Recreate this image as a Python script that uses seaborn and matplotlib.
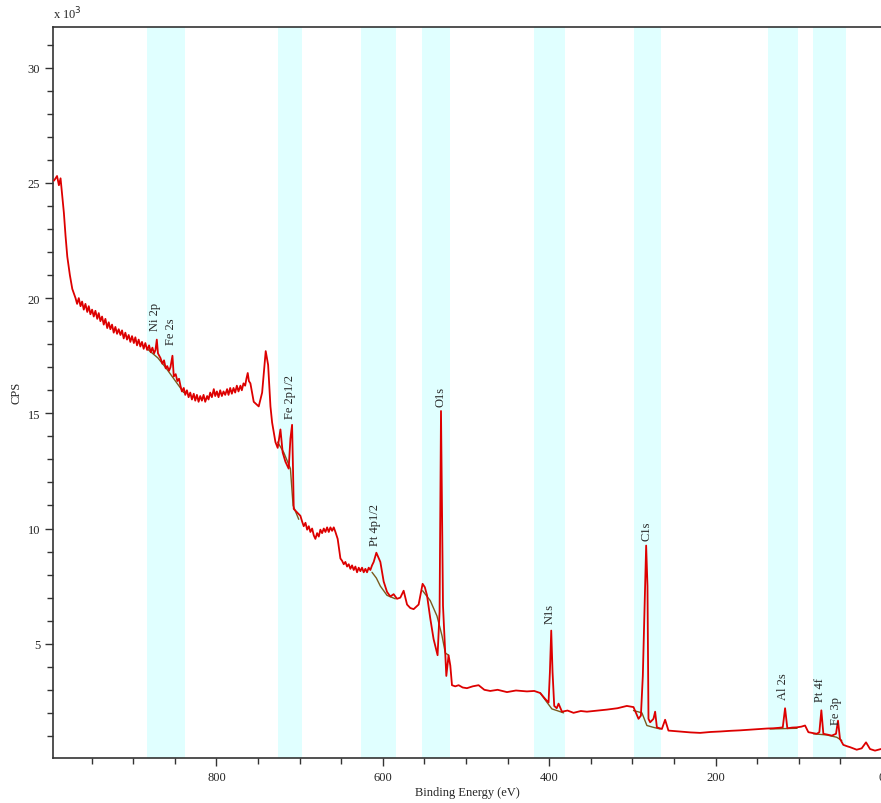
import numpy as np
import pandas as pd
import matplotlib
matplotlib.use("Agg")
import matplotlib.pyplot as plt
import seaborn as sns

# survey spectrum (binding energy in eV, counts in 10^3 CPS)
binding_energy = [
    995.2, 991.6, 989.4, 987.4, 985.3, 983.4, 981.4, 979.3, 976.2, 973.3,
    969.4, 967.5, 965.5, 963.4, 961.5, 959.5, 957.5, 955.3, 953.5, 951.5,
    949.5, 947.5, 945.5, 943.3, 941.5, 939.5, 937.5, 935.5, 933.5, 931.3,
    929.5, 927.5, 925.5, 923.5, 921.5, 919.5, 917.5, 915.4, 913.5, 911.5,
    909.5, 907.5, 905.5, 903.5, 901.5, 899.3, 897.5, 895.5, 893.5, 891.5,
    889.5, 887.5, 885.5, 883.3, 881.0, 879.0, 877.0, 875.0, 873.3, 871.7,
    870.3, 867.3, 865.0, 863.0, 861.0, 859.2, 857.0, 855.3, 852.9, 851.3,
    849.0, 847.0, 845.0, 843.3, 841.5, 839.3, 837.5, 835.5, 833.5, 831.5,
    829.5, 827.3, 825.5, 823.5, 821.5, 819.5, 817.5, 815.5, 813.5, 811.2,
    809.5, 807.5, 805.5, 803.2, 801.5, 799.5, 797.5, 795.5, 793.5, 791.5,
    789.5, 787.2, 785.5, 783.5, 781.5, 779.5, 777.5, 775.5, 773.5, 771.2,
    769.5, 767.5, 765.5, 764.0, 762.4, 761.0, 759.2, 755.2, 749.2, 745.1,
    740.8, 737.9, 735.1, 733.1, 729.1, 726.4, 723.1, 720.4, 717.1, 713.2,
    711.1, 709.1, 707.9, 707.1, 703.1, 699.1, 697.0, 695.1, 693.0, 691.0,
    689.0, 687.1, 685.0, 683.0, 681.1, 679.0, 677.0, 675.1, 673.0, 671.0,
    669.0, 667.0, 665.0, 663.0, 661.0, 659.0, 657.0, 654.3, 651.0, 649.0,
    647.0, 645.0, 643.0, 641.0, 639.0, 637.0, 635.0, 633.0, 631.0, 629.0,
    627.0, 625.0, 623.0, 621.0, 619.0, 617.0, 615.0, 613.0, 611.0, 607.8,
    603.0, 599.0, 595.0, 591.0, 587.0, 583.0, 579.0, 575.0, 570.9, 567.0,
    563.0, 560.0, 557.0, 552.2, 549.5, 546.9, 543.0, 539.0, 534.2, 531.8,
    530.1, 527.7, 524.9, 523.7, 521.0, 518.9, 516.9, 513.0, 508.9, 504.0,
    498.9, 492.0, 484.9, 478.0, 470.9, 462.0, 450.8, 440.0, 426.8, 418.0,
    410.8, 404.8, 400.8, 399.2, 397.6, 396.0, 394.0, 391.0, 388.8, 384.7,
    378.0, 370.8, 362.0, 354.7, 342.0, 330.7, 318.0, 306.7, 298.7, 292.7,
    289.8, 287.5, 285.9, 283.5, 281.9, 280.7, 278.7, 274.7, 272.7, 270.6,
    264.6, 260.7, 256.7, 242.6, 230.0, 218.6, 206.0, 194.6, 182.0, 170.6,
    158.0, 146.5, 138.0, 130.6, 124.0, 119.3, 116.5, 113.8, 108.0, 102.5,
    97.0, 92.5, 88.5, 83.0, 78.4, 75.3, 72.9, 70.5, 65.0, 60.4,
    55.3, 52.9, 50.5, 46.5, 42.0, 38.4, 34.0, 30.4, 24.4, 19.2,
    14.4, 8.4, 1.2,
]
cps_k = [
    25.1, 25.3, 24.9, 25.2, 24.4, 23.7, 22.7, 21.8, 21.0, 20.4,
    20.0, 19.75, 20.0, 19.65, 19.85, 19.5, 19.75, 19.4, 19.65, 19.3,
    19.5, 19.2, 19.45, 19.1, 19.35, 19.0, 19.2, 18.85, 19.1, 18.7,
    18.95, 18.65, 18.85, 18.5, 18.75, 18.45, 18.65, 18.4, 18.6, 18.25,
    18.5, 18.2, 18.4, 18.1, 18.35, 18.05, 18.3, 17.95, 18.2, 17.9,
    18.1, 17.8, 18.05, 17.75, 17.95, 17.65, 17.85, 17.6, 17.75, 18.2,
    17.6, 17.4, 17.15, 17.3, 16.95, 17.05, 16.85, 17.0, 17.5, 16.6,
    16.7, 16.4, 16.5, 16.2, 15.95, 16.1, 15.8, 16.0, 15.7, 15.9,
    15.6, 15.85, 15.55, 15.8, 15.5, 15.75, 15.55, 15.8, 15.5, 15.75,
    15.6, 15.9, 15.7, 16.05, 15.75, 15.95, 15.7, 16.0, 15.75, 15.95,
    15.8, 16.05, 15.8, 16.1, 15.85, 16.1, 15.9, 16.2, 15.95, 16.2,
    16.0, 16.3, 16.2, 16.5, 16.75, 16.4, 16.3, 15.5, 15.3, 15.9,
    17.7, 17.1, 15.3, 14.6, 13.75, 13.5, 14.3, 13.3, 12.9, 12.6,
    13.9, 14.5, 12.45, 10.85, 10.7, 10.55, 10.3, 10.1, 10.25, 9.95,
    10.1, 9.85, 10.0, 9.7, 9.55, 9.8, 9.65, 9.95, 9.8, 10.0,
    9.85, 10.05, 9.85, 10.05, 9.9, 10.05, 9.85, 9.55, 8.7, 8.6,
    8.45, 8.55, 8.35, 8.45, 8.25, 8.4, 8.2, 8.35, 8.1, 8.3,
    8.15, 8.3, 8.1, 8.25, 8.1, 8.3, 8.2, 8.4, 8.55, 8.95,
    8.55, 7.7, 7.25, 7.05, 7.15, 6.95, 7.0, 7.3, 6.7, 6.55,
    6.5, 6.6, 6.7, 7.6, 7.45, 7.1, 6.1, 5.2, 4.5, 6.4,
    15.1, 6.65, 4.5, 3.6, 4.5, 4.05, 3.2, 3.15, 3.2, 3.1,
    3.07, 3.15, 3.2, 3.0, 2.95, 3.0, 2.9, 2.97, 2.93, 2.95,
    2.86, 2.6, 2.45, 3.76, 5.57, 3.76, 2.3, 2.2, 2.4, 2.05,
    2.1, 2.0, 2.08, 2.05, 2.1, 2.14, 2.2, 2.3, 2.25, 1.74,
    1.88, 3.6, 5.8, 9.26, 7.5, 1.74, 1.59, 1.74, 2.05, 1.37,
    1.3, 1.7, 1.23, 1.19, 1.15, 1.13, 1.17, 1.19, 1.22, 1.24,
    1.27, 1.3, 1.32, 1.33, 1.35, 1.37, 2.2, 1.33, 1.36, 1.37,
    1.4, 1.45, 1.16, 1.12, 1.09, 1.16, 2.11, 1.09, 1.05, 1.01,
    1.09, 1.66, 0.87, 0.61, 0.55, 0.51, 0.45, 0.40, 0.46, 0.72,
    0.43, 0.36, 0.43,
]

# shaded peak regions (eV)
region_hi = [883.8, 725.9, 626.7, 553.3, 417.9, 298.7, 136.9, 83.5]
region_lo = [837.5, 696.9, 584.1, 519.8, 380.5, 265.8, 101.5, 42.9]

# background lines under each region
bg_energy = [
    [883.3, 870.3, 860.3, 851.3, 839.3],
    [726.4, 719.1, 711.1, 707.9, 701.1],
    [613.0, 607.8, 603.0, 595.0, 585.0],
    [552.2, 543.0, 534.9, 528.9, 524.9, 521.0],
    [410.8, 402.8, 396.8, 390.8, 382.8],
    [298.7, 288.6, 282.6, 274.7, 266.7],
    [134.5, 102.1],
    [82.5, 66.4, 54.4, 48.4],
]
bg_cps_k = [
    [17.8, 17.4, 16.95, 16.5, 15.9],
    [13.75, 13.3, 12.6, 11.0, 10.4],
    [8.1, 7.85, 7.5, 7.1, 6.95],
    [7.3, 6.87, 6.2, 5.35, 4.6, 4.5],
    [2.86, 2.46, 2.17, 2.1, 2.0],
    [2.1, 2.0, 1.45, 1.37, 1.3],
    [1.3, 1.33],
    [1.09, 1.04, 0.94, 0.8],
]

# peak labels
peak_names = ["Ni 2p", "Fe 2s", "Fe 2p1/2", "Pt 4p1/2", "O1s", "N1s", "C1s", "Al 2s", "Pt 4f", "Fe 3p"]
peak_energy = [874.0, 855.0, 711.0, 609.0, 531.0, 400.0, 283.5, 119.0, 74.5, 55.0]
peak_label_k = [18.6, 18.0, 14.8, 9.3, 15.3, 5.9, 9.5, 2.6, 2.5, 1.5]

sns.set_style("ticks")
plt.rcParams["font.family"] = ["Liberation Serif", "DejaVu Serif"]

fig = plt.figure(figsize=(8.81, 8.04), dpi=100)
ax = fig.add_axes([53.4 / 881, 45 / 804, (882 - 53.4) / 881, (759 - 27.7) / 804])

for hi, lo in zip(region_hi, region_lo):
    ax.axvspan(lo, hi, color="#e0ffff", lw=0, zorder=0)

df = pd.DataFrame({"be": binding_energy, "cps": cps_k})
sns.lineplot(data=df, x="be", y="cps", sort=False, estimator=None,
             color="#dd0000", lw=1.3, ax=ax, zorder=3)

for xs, ys in zip(bg_energy, bg_cps_k):
    ax.plot(xs, ys, color="#7a5a1e", lw=1.0, zorder=2)

for name, x, y in zip(peak_names, peak_energy, peak_label_k):
    ax.text(x, y, name, rotation=90, ha="center", va="bottom", fontsize=9, zorder=4)

ax.set_xlim(996, 0)
ax.set_ylim(0.04, 31.78)
ax.set_xticks([800, 600, 400, 200, 0])
ax.set_xticks(np.arange(950, -1, -50), minor=True)
ax.set_yticks([5, 10, 15, 20, 25, 30])
ax.set_yticks(np.arange(1, 32, 1), minor=True)
ax.tick_params(which="major", length=6, width=1, labelsize=9, color="#333333")
ax.tick_params(which="minor", length=4, width=1, color="#333333")
for s in ax.spines.values():
    s.set_color("#333333")
    s.set_linewidth(1.2)

ax.set_xlabel("Binding Energy (eV)", fontsize=9, labelpad=2)
ax.set_ylabel("CPS", fontsize=9, labelpad=4)
fig.text(53 / 881, 1 - 19 / 804, "x 10$^3$", fontsize=9, ha="left", va="baseline")

fig.savefig("out.png", dpi=100)
